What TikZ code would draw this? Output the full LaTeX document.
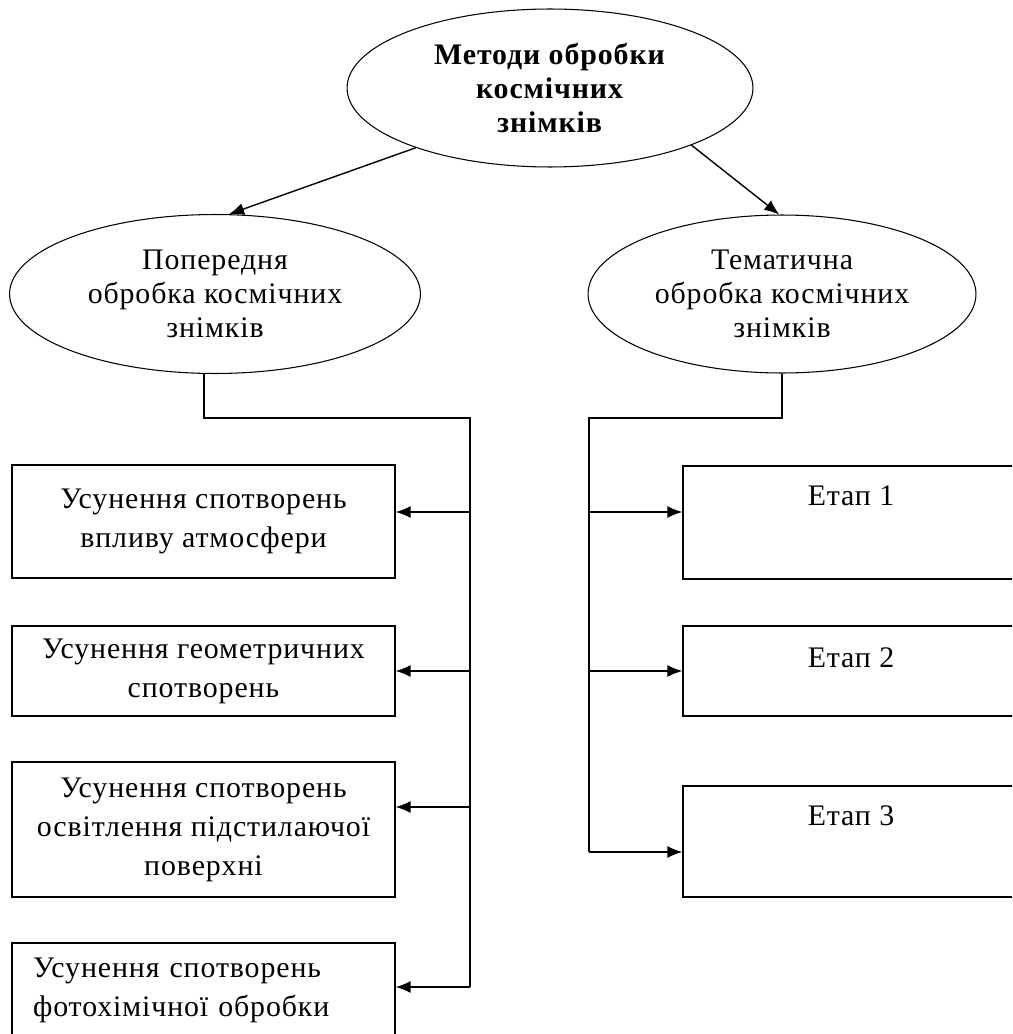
\documentclass[tikz,border=0pt]{standalone}
\usepackage{fontspec}
\setmainfont{Liberation Serif}[LetterSpace=3]
\usetikzlibrary{arrows.meta,shapes.geometric}

\begin{document}
\begin{tikzpicture}[x=0.02cm, y=-0.02cm,
		oval/.style={draw, ellipse, line width=0.6pt, inner sep=0pt, align=center, font=\fontsize{17}{19.3}\selectfont},
		fixbox/.style={draw, rectangle, line width=0.8pt, inner sep=0pt, minimum width=7.66cm, align=center, font=\fontsize{17}{22.2}\selectfont},
		stagebox/.style={draw, rectangle, line width=0.8pt, inner sep=0pt, minimum width=6.72cm, text height=0.4cm, text depth=#1, font=\fontsize{17}{22.2}\selectfont},
		link/.style={line width=0.8pt},
		arr/.style={line width=0.8pt, -{Latex[length=0.3cm,width=0.24cm]}}]
		%%%%% START %%%%%
		\useasboundingbox (0,0) rectangle (1012,1034);
		\clip (0,0) rectangle (1012,1034);
		
		\node[oval, minimum width=8.12cm, minimum height=3.16cm] (methods) at (550,88) {\textbf{Методи обробки}\\\textbf{космічних}\\\textbf{знімків}};
		\node[oval, minimum width=8.22cm, minimum height=3.18cm] (prep) at (215,294) {Попередня\\обробка космічних\\знімків};
		\node[oval, minimum width=7.76cm, minimum height=3.16cm] (thematic) at (782,294) {Тематична\\обробка космічних\\знімків};
		
		\draw[arr] (methods.204) -- (prep.80);
		\draw[arr] (methods.338) -- (thematic.92);
		
		% left column
		\node[fixbox, minimum height=2.26cm] (fix1) at (203.5,521.5) {Усунення спотворень\\впливу атмосфери};
		\node[fixbox, minimum height=1.8cm] (fix2) at (203.5,671) {Усунення геометричних\\спотворень};
		\node[fixbox, minimum height=2.7cm] (fix3) at (203.5,829.5) {Усунення спотворень\\освітлення підстилаючої\\поверхні};
		\node[fixbox, minimum height=1.88cm, text width=6.82cm, align=left] (fix4) at (203.5,990) {Усунення спотворень\\фотохімічної обробки};
		
		\coordinate (lbend) at (470,418);
		\coordinate (ltap1) at (470,512);
		\coordinate (ltap2) at (470,671);
		\coordinate (ltap3) at (470,807);
		\coordinate (ltap4) at (470,987);
		
		\draw[link] ([xshift=-0.22cm]prep.south) |- (lbend) -- (ltap4);
		\draw[arr] (ltap1) -- (ltap1 -| fix1.east);
		\draw[arr] (ltap2) -- (ltap2 -| fix2.east);
		\draw[arr] (ltap3) -- (ltap3 -| fix3.east);
		\draw[arr] (ltap4) -- (ltap4 -| fix4.east);
		
		% right column
		\node[stagebox=1.1cm, minimum height=2.26cm] (stage1) at (851,522.5) {Етап 1};
		\node[stagebox=0.56cm, minimum height=1.8cm] (stage2) at (851,671) {Етап 2};
		\node[stagebox=1.06cm, minimum height=2.22cm] (stage3) at (851,841.5) {Етап 3};
		
		\coordinate (rbend) at (589,418);
		\coordinate (rtap1) at (589,512);
		\coordinate (rtap2) at (589,671);
		\coordinate (rtap3) at (589,852);
		
		\draw[link] (thematic.south) |- (rbend) -- (rtap3);
		\draw[arr] (rtap1) -- (rtap1 -| stage1.west);
		\draw[arr] (rtap2) -- (rtap2 -| stage2.west);
		\draw[arr] (rtap3) -- (rtap3 -| stage3.west);
		
		%%%%% END %%%%%
	\end{tikzpicture}
\end{document}
